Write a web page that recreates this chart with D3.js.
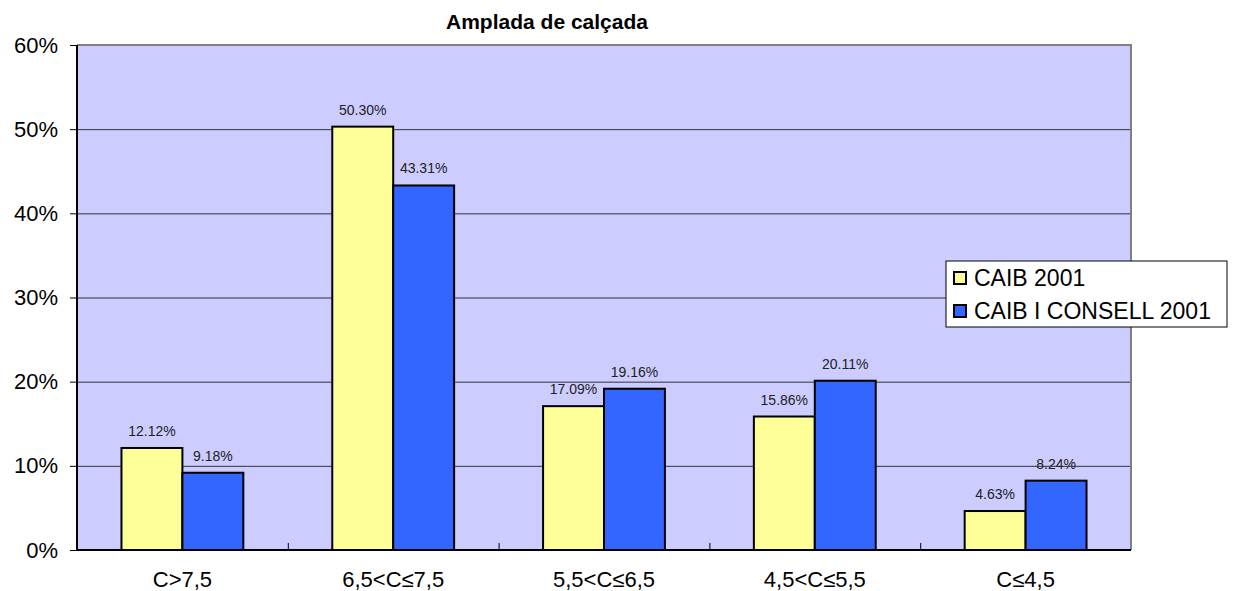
<!DOCTYPE html>
<html>
<head>
<meta charset="utf-8">
<script src="https://cdn.jsdelivr.net/npm/d3@7"></script>
<style>
  body { margin: 0; background: #fff; }
  text { font-family: Arial, "Liberation Sans", sans-serif; }
</style>
</head>
<body>
<div id="container"></div>
<script>
const categories = ["C>7,5", "6,5<C≤7,5", "5,5<C≤6,5", "4,5<C≤5,5", "C≤4,5"];
const seriesNames = ["CAIB 2001", "CAIB I CONSELL 2001"];
const caib = [12.12, 50.30, 17.09, 15.86, 4.63];
const caibConsell = [9.18, 43.31, 19.16, 20.11, 8.24];
const yTicks = [0, 10, 20, 30, 40, 50, 60];
const colors = ["#FFFF99", "#3366FF"];

const width = 1236;
const height = 591;
const margin = { top: 45, right: 105, bottom: 41, left: 77 };

const data = categories.map((c, i) => ({ cat: c, values: [caib[i], caibConsell[i]] }));

let svg = d3.select("#container").append("svg")
    .attr("width", width)
    .attr("height", height);

let x = d3.scaleBand()
    .domain(categories)
    .range([margin.left, width - margin.right]);

// two bars per group, about 42% of the band left empty
let x1 = d3.scaleBand()
    .domain([0, 1])
    .range([0, x.bandwidth()])
    .paddingInner(0)
    .paddingOuter(0.73);

let y = d3.scaleLinear()
    .domain([0, 60])
    .range([height - margin.bottom, margin.top]);

// plot background
svg.append("rect")
    .attr("x", margin.left)
    .attr("y", margin.top)
    .attr("width", width - margin.right - margin.left)
    .attr("height", y(0) - margin.top)
    .attr("fill", "#CCCCFF");

// grid
svg.append("g")
    .selectAll("line")
    .data(yTicks.filter(d => d > 0 && d < 60))
    .join("line")
    .attr("x1", margin.left)
    .attr("x2", width - margin.right)
    .attr("y1", d => y(d) + 0.5)
    .attr("y2", d => y(d) + 0.5)
    .attr("stroke", "#333")
    .attr("stroke-width", 1);

// gray border top and right
svg.append("path")
    .attr("d", `M${margin.left},${margin.top}H${width - margin.right}V${y(0)}`)
    .attr("fill", "none")
    .attr("stroke", "#808080")
    .attr("stroke-width", 2);

// bars
let groups = svg.append("g")
    .selectAll("g")
    .data(data)
    .join("g")
    .attr("transform", d => `translate(${x(d.cat)},0)`);

groups.selectAll("rect")
    .data(d => d.values.map((v, i) => ({ v, i })))
    .join("rect")
    .attr("x", d => x1(d.i))
    .attr("y", d => y(d.v))
    .attr("width", x1.bandwidth())
    .attr("height", d => y(0) - y(d.v))
    .attr("fill", d => colors[d.i])
    .attr("stroke", "#000")
    .attr("stroke-width", 2);

groups.selectAll("text")
    .data(d => d.values.map((v, i) => ({ v, i })))
    .join("text")
    .attr("x", d => x1(d.i) + x1.bandwidth() / 2)
    .attr("y", d => y(d.v) - 12)
    .attr("text-anchor", "middle")
    .attr("font-size", 14)
    .attr("fill", "#222")
    .text(d => d.v.toFixed(2) + "%");

// y axis
let yAxis = svg.append("g")
    .attr("transform", `translate(${margin.left},0)`)
    .call(d3.axisLeft(y).tickValues(yTicks).tickSize(7).tickFormat(d => d + "%"));
yAxis.select(".domain").attr("stroke", "#000").attr("stroke-width", 2).attr("d", `M0,${margin.top}V${y(0)}`);
yAxis.selectAll(".tick line").attr("stroke", "#000");
yAxis.selectAll(".tick text").attr("font-size", 22).attr("x", -19).attr("fill", "#000")
    .attr("font-family", "Arial, 'Liberation Sans', sans-serif");

// x axis
let xAxis = svg.append("g")
    .attr("transform", `translate(0,${y(0)})`)
    .call(d3.axisBottom(x).tickSize(0).tickPadding(22));
xAxis.select(".domain").attr("stroke", "#000").attr("stroke-width", 2)
    .attr("d", `M${margin.left},0H${width - margin.right}`);
xAxis.selectAll(".tick text").attr("font-size", 22).attr("fill", "#000").attr("dy", "0.7em")
    .attr("font-family", "Arial, 'Liberation Sans', sans-serif");

// inner category separator ticks
svg.append("g")
    .selectAll("line")
    .data(categories.slice(1))
    .join("line")
    .attr("x1", d => x(d) + 0.5)
    .attr("x2", d => x(d) + 0.5)
    .attr("y1", y(0) - 7)
    .attr("y2", y(0))
    .attr("stroke", "#000");

// title
svg.append("text")
    .attr("x", 547)
    .attr("y", 29)
    .attr("text-anchor", "middle")
    .attr("font-size", 21)
    .attr("font-weight", "bold")
    .text("Amplada de calçada");

// legend
let legend = svg.append("g").attr("transform", "translate(946,261)");
legend.append("rect")
    .attr("width", 281)
    .attr("height", 66)
    .attr("fill", "#fff")
    .attr("stroke", "#000");
let items = legend.selectAll("g")
    .data(seriesNames)
    .join("g")
    .attr("transform", (d, i) => `translate(8,${17 + i * 33})`);
items.append("rect")
    .attr("x", 0)
    .attr("y", -6)
    .attr("width", 12)
    .attr("height", 12)
    .attr("fill", (d, i) => colors[i])
    .attr("stroke", "#000")
    .attr("stroke-width", 2);
items.append("text")
    .attr("x", 20)
    .attr("y", 0)
    .attr("dy", "0.36em")
    .attr("font-size", 23)
    .text(d => d);
</script>
</body>
</html>
